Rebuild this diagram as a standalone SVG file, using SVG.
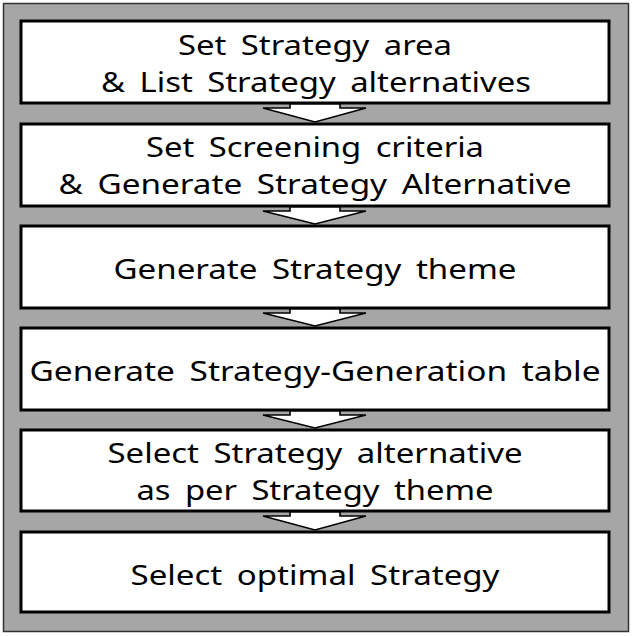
<svg xmlns="http://www.w3.org/2000/svg" width="633" height="636" viewBox="0 0 633 636">
<style>
.box{fill:#ffffff;stroke:#000000;stroke-width:3}
.t{font-family:"Noto Sans","Open Sans",sans-serif;font-size:28px;fill:#000000;text-anchor:middle;word-spacing:5px}
.arr{fill:#ffffff;stroke:#000000;stroke-width:1.6;stroke-linejoin:miter}
</style>
<rect x="0" y="0" width="633" height="636" fill="#ffffff"/>
<rect id="frame" x="3.5" y="3.5" width="625" height="628" fill="#a6a6a6" stroke="#333333" stroke-width="1.5"/>
<g id="n1">
<rect class="box" x="21" y="21" width="588" height="82"/>
<text class="t" x="315" y="55" textLength="274" lengthAdjust="spacingAndGlyphs">Set Strategy area</text>
<text class="t" x="316" y="92" textLength="430" lengthAdjust="spacingAndGlyphs">&amp; List Strategy alternatives</text>
</g>
<g id="n2">
<rect class="box" x="21" y="124" width="588" height="82"/>
<text class="t" x="315" y="157" textLength="338" lengthAdjust="spacingAndGlyphs">Set Screening criteria</text>
<text class="t" x="315" y="194" textLength="513" lengthAdjust="spacingAndGlyphs">&amp; Generate Strategy Alternative</text>
</g>
<g id="n3">
<rect class="box" x="21" y="226" width="588" height="82"/>
<text class="t" x="315" y="279" textLength="403" lengthAdjust="spacingAndGlyphs">Generate Strategy theme</text>
</g>
<g id="n4">
<rect class="box" x="21" y="328" width="588" height="82"/>
<text class="t" x="315" y="381" textLength="571" lengthAdjust="spacingAndGlyphs">Generate Strategy-Generation table</text>
</g>
<g id="n5">
<rect class="box" x="21" y="430" width="588" height="81"/>
<text class="t" x="315" y="463" textLength="415" lengthAdjust="spacingAndGlyphs">Select Strategy alternative</text>
<text class="t" x="315" y="500" textLength="357" lengthAdjust="spacingAndGlyphs">as per Strategy theme</text>
</g>
<g id="n6">
<rect class="box" x="21" y="532" width="588" height="80"/>
<text class="t" x="315" y="585" textLength="369" lengthAdjust="spacingAndGlyphs">Select optimal Strategy</text>
</g>
<g id="connectors">
<polygon class="arr" points="290,104 340,104 340,108 366,108 315,122 263,108 290,108"/>
<polygon class="arr" points="290,207 340,207 340,211 366,211 315,224 263,211 290,211"/>
<polygon class="arr" points="290,309 340,309 340,313 366,313 315,326 263,313 290,313"/>
<polygon class="arr" points="290,411 340,411 340,415 366,415 315,428 263,415 290,415"/>
<polygon class="arr" points="290,512 340,512 340,516 366,516 315,530 263,516 290,516"/>
</g>
</svg>
